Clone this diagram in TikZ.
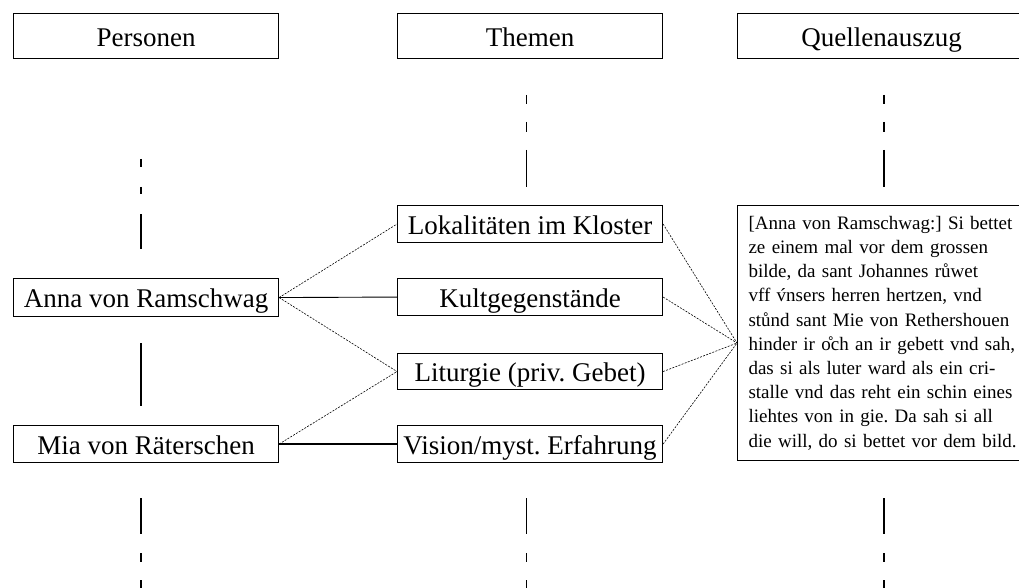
\documentclass[tikz,border=0pt]{standalone}
\usepackage{fontspec}
\setmainfont{Liberation Serif}
\frenchspacing
\begin{document}
\begin{tikzpicture}[x=1pt,y=-1pt,
  box/.style={draw, line width=1.1pt, minimum width=265pt, inner sep=0pt, anchor=north west,
    text height=22pt, text depth=2pt, font=\fontsize{27}{30}\selectfont},
  dconn/.style={line width=0.6pt, dash pattern=on 2pt off 1.3pt},
  sconn/.style={line width=0.9pt},
  life/.style={line width=1.3pt},
  lifethin/.style={line width=0.9pt}]
\useasboundingbox (0,0) rectangle (1019,588);
\clip (0,0) rectangle (1019,588);
% headers
\node[box, minimum height=45pt] (hp) at (13,13) {Personen};
\node[box, minimum height=45pt] (ht) at (397,13) {Themen};
\node[box, minimum height=45pt, minimum width=288pt] (hq) at (737,13) {Quellenauszug};
% persons
\node[box, minimum height=38pt] (anna) at (13,278) {Anna von Ramschwag};
\node[box, minimum height=37pt] (mia) at (13,425) {Mia von Räterschen};
% themes
\node[box, minimum height=37pt] (lok) at (397,205) {Lokalitäten im Kloster};
\node[box, minimum height=37pt] (kult) at (397,278) {Kultgegenstände};
\node[box, minimum height=36pt] (lit) at (397,353) {Liturgie (priv. Gebet)};
\node[box, minimum height=37pt] (vis) at (397,425) {Vision/myst. Erfahrung};
% quote
\node[draw, line width=1.1pt, anchor=north west, minimum height=255pt, text width=290pt, inner xsep=11pt, inner ysep=0pt, align=left,
  font=\fontsize{19}{24.2}\selectfont] (quote) at (737,205) {%
[Anna von Ramschwag:] Si bettet\\
ze einem mal vor dem grossen\\
bilde, da sant Johannes růwet\\
vff \'{v}nsers herren hertzen, vnd\\
stůnd sant Mie von Rethershouen\\
hinder ir \r{o}ch an ir gebett vnd sah,\\
das si als luter ward als ein cri-\\
stalle vnd das reht ein schin eines\\
liehtes von in gie. Da sah si all\\
die will, do si bettet vor dem bild.};
\coordinate (qin) at (737,343);
% connectors persons -> themes
\draw[dconn] (anna.east) -- (lok.west);
\draw[sconn] (anna.east) -- (kult.west);
\draw[dconn] (anna.east) -- (lit.west);
\draw[dconn] (mia.east) -- (lit.west);
\draw[sconn, line width=1.2pt] (mia.east) -- (vis.west);
% themes -> quote
\draw[dconn] (lok.east) -- (qin);
\draw[dconn] (kult.east) -- (qin);
\draw[dconn] (lit.east) -- (qin);
\draw[dconn] (vis.east) -- (qin);
% lifelines
\draw[life] (141,159) -- (141,167) (141,187) -- (141,194) (141,214) -- (141,249)
  (141,343) -- (141,406)
  (141,498) -- (141,534) (141,553) -- (141,562) (141,580) -- (141,592);
\draw[lifethin] (526,95) -- (526,104) (526,122) -- (526,132) (526,150) -- (526,187)
  (526,498) -- (526,534) (526,553) -- (526,562) (526,580) -- (526,592);
\draw[life] (884,95) -- (884,104) (884,122) -- (884,132) (884,150) -- (884,187)
  (884,498) -- (884,534) (884,553) -- (884,562) (884,580) -- (884,592);
\end{tikzpicture}
\end{document}
